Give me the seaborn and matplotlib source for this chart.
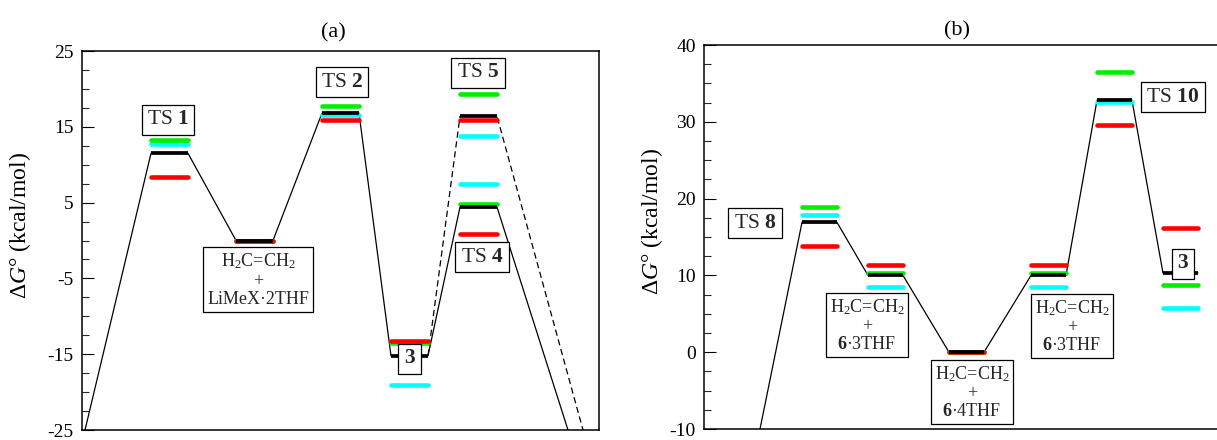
import numpy as np
import pandas as pd
import matplotlib
matplotlib.use("Agg")
import matplotlib.pyplot as plt
import seaborn as sns
from matplotlib.ticker import MultipleLocator

sns.set_theme(style="white")
plt.rcParams["font.family"] = ["Liberation Serif", "DejaVu Serif"]
plt.rcParams["mathtext.fontset"] = "custom"
plt.rcParams["mathtext.rm"] = "Liberation Serif"
plt.rcParams["mathtext.it"] = "Liberation Serif:italic"
plt.rcParams["mathtext.bf"] = "Liberation Serif:bold"
plt.rcParams["axes.unicode_minus"] = False

nan = np.nan

# ---------------- Panel (a) data ----------------
a_states = ["TS1", "Int", "TS2", "3", "TS4", "TS5"]
a_x = [69, 154, 240, 309, 378, 378]          # left edge of each level
a_width = 37
a_black = [11.5, 0.0, 16.8, -15.2, 4.4, 16.4]
a_red = [8.4, 0.0, 15.9, -13.3, 0.9, 15.9]
a_green = [13.2, 0.0, 17.8, -13.5, 4.8, 19.3]
a_cyan = [12.7, 0.0, 16.6, -19.1, 7.4, 13.75]
a_start = (3, -25)            # entry of the solid path (off-chart reactant)
a_end_solid = (486, -25)      # exit after TS4
a_end_dashed = (501, -25)     # exit after TS5
a_solid_order = [0, 1, 2, 3, 4]
a_dashed_order = [3, 5]
a_yticks = [-25, -15, -5, 5, 15, 25]

# ---------------- Panel (b) data ----------------
b_states = ["TS8", "Int1", "Int2", "Int3", "TS10", "3"]
b_x = [98, 164, 245, 327, 393, 459]
b_width = 35
b_black = [16.9, 10.0, 0.0, 10.0, 32.8, 10.3]
b_red = [13.8, 11.3, 0.0, 11.3, 29.6, 16.2]
b_green = [18.95, 10.3, 0.0, 10.3, 36.45, 8.8]
b_cyan = [17.8, 8.5, 0.0, 8.45, 32.6, 5.8]
b_start = (56, -10)
b_order = [0, 1, 2, 3, 4, 5]
b_yticks = [-10, 0, 10, 20, 30, 40]

# labels: (text, x, y)
a_labels = [
    (r"TS $\mathbf{1}$", 86, 15.9),
    (r"TS $\mathbf{2}$", 260, 20.9),
    (r"TS $\mathbf{5}$", 396, 22.1),
    (r"TS $\mathbf{4}$", 400, -2.2),
    (r"$\mathbf{3}$", 327.5, -15.6),
]
a_box = (r"H$_2$C=CH$_2$" "\n+\nLiMeX·2THF", 176, -5.2)
b_labels = [
    (r"TS $\mathbf{8}$", 51, 16.8),
    (r"TS $\mathbf{10}$", 469, 33.2),
    (r"$\mathbf{3}$", 479, 11.5),
]
b_boxes = [
    (r"H$_2$C=CH$_2$" "\n+\n" r"$\mathbf{6}$·3THF", 163, 3.5),
    (r"H$_2$C=CH$_2$" "\n+\n" r"$\mathbf{6}$·4THF", 268, -5.2),
    (r"H$_2$C=CH$_2$" "\n+\n" r"$\mathbf{6}$·3THF", 368, 3.4),
]

colors = {"cyan": "#00FFFF", "green": "#00EE00", "red": "#FF0000", "black": "#000000"}

fig = plt.figure(figsize=(12.17, 4.4), dpi=100)
W, H = 1217, 440
ax_a = fig.add_axes([82 / W, (H - 430) / H, 517 / W, 379 / H])
ax_b = fig.add_axes([704 / W, (H - 429) / H, 518 / W, 384 / H])


def path_df(xs, ys, order, width, start=None, end=None):
    px, py = [], []
    if start is not None:
        px.append(start[0]); py.append(start[1])
    for i in order:
        px += [xs[i], xs[i] + width]
        py += [ys[i], ys[i]]
    if end is not None:
        px.append(end[0]); py.append(end[1])
    return pd.DataFrame({"x": px, "y": py})


def draw_levels(ax, xs, width, series):
    for name, vals in series:
        lw = 2.7 if name == "black" else 3.3
        for x0, v in zip(xs, vals):
            if np.isnan(v):
                continue
            ax.plot([x0, x0 + width], [v, v], color=colors[name], lw=lw,
                    solid_capstyle="butt" if name == "black" else "round", zorder=3)


def style_axis(ax, ylim, yticks, ylabel_x):
    ax.set_ylim(*ylim)
    ax.set_yticks(yticks)
    ax.set_yticklabels([str(t) for t in yticks])
    ax.yaxis.set_minor_locator(MultipleLocator(2.5))
    ax.set_xticks([])
    ax.tick_params(axis="y", which="major", direction="in", length=8.5, width=0.8,
                   labelsize=14, pad=6, colors="black", left=True)
    ax.tick_params(axis="y", which="minor", direction="in", length=5, width=0.8, left=True)
    for s in ax.spines.values():
        s.set_color("black")
        s.set_linewidth(1.1)
        s.set_visible(True)
    ax.set_ylabel(r"Δ$G$° (kcal/mol)", fontsize=17, color="black")
    ax.yaxis.set_label_coords(ylabel_x, 0.54)


box_kw = dict(boxstyle="square,pad=0.25", fc="white", ec="black", lw=0.9)

# ---- panel (a)
sns.lineplot(data=path_df(a_x, a_black, a_solid_order, a_width, a_start, a_end_solid),
             x="x", y="y", sort=False, estimator=None, color="black", lw=0.9, ax=ax_a)
dd = path_df(a_x, a_black, a_dashed_order, a_width, None, a_end_dashed)
dd = dd.iloc[1:].reset_index(drop=True)
sns.lineplot(data=dd, x="x", y="y", sort=False, estimator=None, color="black",
             lw=0.9, ax=ax_a, linestyle=(0, (5, 3)))
draw_levels(ax_a, a_x, a_width,
            [("cyan", a_cyan), ("green", a_green), ("red", a_red), ("black", a_black)])
ax_a.set_xlim(0, 517)
style_axis(ax_a, (-25, 25), a_yticks, -0.095)
ax_a.set_xlabel("")
for t, x, y in a_labels:
    ax_a.text(x, y, t, fontsize=15.5, ha="center", va="center", bbox=box_kw, zorder=5)
ax_a.text(a_box[1], a_box[2], a_box[0], fontsize=13, ha="center", va="center",
          linespacing=1.1, bbox=dict(box_kw, boxstyle="square,pad=0.2"), zorder=5)
ax_a.set_title("(a)", fontsize=16, x=0.486, pad=10, color="black")

# ---- panel (b)
sns.lineplot(data=path_df(b_x, b_black, b_order, b_width, b_start, None),
             x="x", y="y", sort=False, estimator=None, color="black", lw=0.9, ax=ax_b)
draw_levels(ax_b, b_x, b_width,
            [("cyan", b_cyan), ("green", b_green), ("red", b_red), ("black", b_black)])
ax_b.set_xlim(0, 518)
style_axis(ax_b, (-10, 40), b_yticks, -0.075)
ax_b.set_xlabel("")
for t, x, y in b_labels:
    ax_b.text(x, y, t, fontsize=15.5, ha="center", va="center", bbox=box_kw, zorder=5)
for t, x, y in b_boxes:
    ax_b.text(x, y, t, fontsize=13, ha="center", va="center", linespacing=1.1,
              bbox=dict(box_kw, boxstyle="square,pad=0.2"), zorder=5)
ax_b.set_title("(b)", fontsize=16, x=0.488, pad=7, color="black")

fig.savefig("out.png", dpi=100, facecolor="white")
